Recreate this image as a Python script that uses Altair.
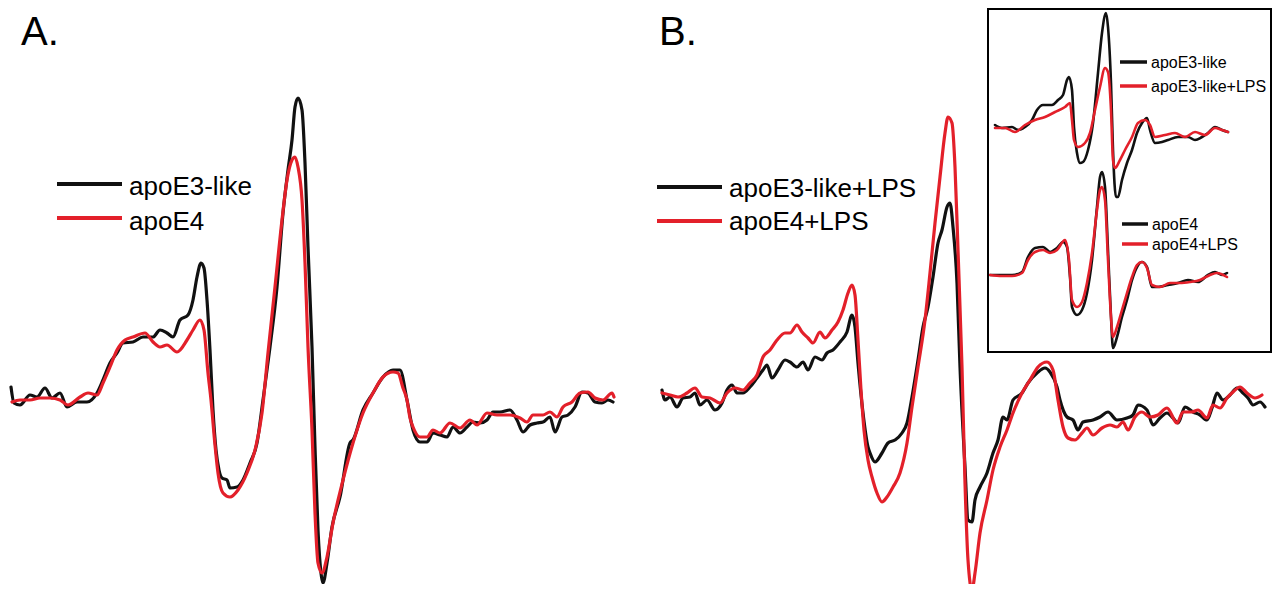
import altair as alt
import pandas as pd

BLACK = "#111111"
RED = "#e3202a"
FONT = "Liberation Sans"

# ---------------- data (field offset, signal amplitude; arbitrary units) ----------------
A_E3 = [(1,13),(4,-3),(10,-5),(20,5),(27,3),(35,12),(42,2),(50,7),(57,-7),(67,-2),(77,-2),(87,7),(93,20),
        (100,37),(107,47),(113,57),(123,58),(133,63),(143,63),(150,70),(157,67),(163,63),(170,80),(178,85),
        (183,100),(187,123),(191,137),(194,132),(197,100),(200,50),(203,-10),(206,-50),(209,-70),(212,-78),
        (217,-80),(220,-88),(227,-87),(233,-80),(240,-63),(247,-43),(253,0),(260,53),(267,113),(273,187),
        (278,230),(282,260),(285,293),(288,302),(292,290),(295,237),(298,153),(302,53),(305,-47),(308,-130),
        (311,-173),(313,-183),(317,-163),(322,-127),(330,-97),(340,-43),(343,-40),(353,-10),(363,7),(373,23),
        (383,30),(390,30),(397,0),(403,-30),(410,-42),(417,-42),(423,-33),(430,-35),(437,-37),(443,-27),
        (450,-33),(457,-27),(463,-22),(470,-23),(477,-20),(483,-12),(490,-12),(500,-10),(507,-20),(513,-32),
        (520,-25),(527,-23),(533,-22),(540,-17),(545,-32),(552,-17),(558,-15),(565,-7),(572,8),(578,7),
        (585,-2),(592,-3),(598,0),(603,-2)]

A_E4 = [(2,-2),(10,0),(20,0),(30,2),(40,2),(50,0),(58,-5),(70,3),(78,7),(87,5),(93,17),(100,33),(107,50),
        (115,60),(123,63),(135,67),(143,58),(150,53),(157,55),(167,48),(177,60),(183,70),(190,80),(194,70),
        (198,27),(201,0),(205,-45),(208,-73),(213,-93),(220,-97),(228,-90),(237,-73),(245,-50),(252,-13),
        (258,47),(265,113),(272,180),(277,220),(282,240),(285,243),(288,233),(292,200),(295,137),(298,53),
        (302,-30),(305,-113),(308,-163),(312,-173),(317,-157),(323,-123),(333,-80),(343,-43),(353,-13),
        (363,7),(373,23),(383,28),(388,27),(393,12),(397,0),(400,-18),(403,-27),(410,-37),(417,-37),
        (423,-30),(430,-33),(440,-23),(450,-28),(460,-20),(467,-25),(477,-13),(487,-15),(500,-15),
        (510,-18),(517,-22),(523,-15),(533,-15),(540,-12),(547,-17),(553,-7),(562,-2),(570,7),(578,8),
        (585,2),(593,0),(602,7),(604,3)]

B_E3_LPS = [(2,10),(5,0),(10,3),(17,-7),(23,2),(30,3),(35,7),(40,-5),(47,0),(55,-10),(62,-3),(67,10),
            (72,15),(77,7),(83,7),(90,13),(97,22),(103,30),(107,35),(112,22),(118,30),(125,40),(130,38),
            (137,33),(143,38),(148,30),(155,43),(162,40),(167,47),(173,50),(180,58),(187,68),(192,85),
            (195,73),(198,37),(203,-13),(208,-47),(210,-53),(215,-62),(222,-53),(228,-43),(235,-40),
            (242,-33),(247,-23),(252,3),(258,40),(263,73),(268,93),(273,123),(278,157),(282,170),(287,193),
            (290,197),(293,173),(297,117),(300,33),(305,-67),(308,-120),(312,-122),(315,-100),(320,-87),
            (327,-73),(333,-53),(338,-40),(343,-17),(347,-20),(353,0),(362,7),(368,17),(377,27),(385,32),
            (390,28),(397,13),(400,0),(407,-17),(413,-20),(418,-30),(423,-22),(433,-20),(440,-17),(448,-12),
            (457,-20),(467,-18),(473,-15),(478,-5),(487,-10),(493,-25),(500,-18),(507,-13),(513,-18),
            (518,-23),(525,-7),(533,-12),(540,-15),(547,-20),(552,-8),(557,7),(563,0),(570,5),(577,12),
            (583,7),(588,2),(593,-5),(600,-2),(605,-7)]

B_E4_LPS = [(2,7),(10,5),(18,3),(27,7),(35,12),(42,3),(50,2),(60,-3),(67,7),(75,12),(83,10),(90,17),
            (97,25),(103,43),(110,50),(117,60),(125,67),(130,67),(137,75),(142,68),(148,62),(153,57),
            (160,68),(165,62),(172,70),(178,78),(183,90),(188,107),(192,115),(195,105),(198,60),(201,10),
            (204,-30),(208,-60),(212,-77),(217,-93),(222,-102),(227,-97),(233,-87),(240,-73),(247,-43),
            (252,-7),(258,33),(265,80),(270,127),(275,177),(280,223),(285,267),(288,283),(292,277),
            (295,233),(298,150),(302,33),(305,-83),(308,-160),(312,-190),(315,-173),(320,-133),(327,-100),
            (333,-70),(340,-47),(347,-30),(353,-13),(362,7),(370,20),(378,33),(387,38),(393,30),(398,0),
            (403,-27),(408,-38),(415,-40),(422,-33),(427,-28),(433,-35),(442,-28),(450,-25),(457,-27),
            (463,-22),(468,-30),(475,-17),(482,-12),(490,-17),(498,-15),(507,-8),(517,-23),(523,-12),
            (532,-12),(538,-10),(547,-18),(553,-5),(560,-8),(567,2),(573,8),(580,13),(587,7),(595,2),(602,5)]

INSET_E3 = [(5,3),(12,0),(22,1),(28,-2),(35,1),(42,8),(47,18),(53,23),(62,23),(68,28),(73,33),(77,48),
            (79,51),(82,38),(84,1),(87,-25),(90,-35),(93,-34),(98,-22),(103,5),(108,55),(112,95),(116,115),
            (118,101),(121,45),(123,-22),(126,-69),(128,-69),(132,-52),(137,-35),(142,-22),(147,-5),(152,5),
            (157,10),(160,-2),(165,-15),(172,-14),(178,-12),(188,-9),(198,-9),(205,-12),(212,-9),(218,-5),
            (225,1),(232,-2),(238,-4)]

INSET_E3_LPS = [(5,0),(15,0),(25,-4),(35,3),(45,8),(55,11),(65,16),(75,21),(80,25),(82,8),(84,-12),
                (88,-19),(95,-15),(100,-5),(105,18),(110,41),(115,60),(118,56),(121,18),(123,-32),(125,-40),
                (130,-32),(135,-22),(142,-9),(148,5),(155,8),(160,3),(165,-9),(175,-7),(185,-5),(195,-9),
                (205,-4),(215,-7),(225,0),(232,-2),(238,-4)]

INSET_E4 = [(0,0),(12,0),(22,0),(32,3),(38,18),(45,27),(53,28),(60,23),(67,27),(73,33),(77,28),(80,-2),
            (82,-32),(87,-40),(92,-35),(97,-18),(102,15),(107,68),(110,98),(112,103),(115,88),(118,25),
            (121,-42),(123,-73),(127,-62),(132,-42),(137,-25),(142,-5),(147,8),(152,13),(157,8),(162,-12),
            (168,-12),(178,-10),(188,-8),(198,-5),(208,-7),(218,0),(225,3),(232,0),(237,2)]

INSET_E4_LPS = [(0,0),(12,-1),(22,-1),(32,2),(38,15),(45,23),(53,25),(60,22),(67,25),(75,35),(79,15),
                (82,-25),(87,-32),(92,-27),(97,-8),(102,22),(107,65),(110,85),(112,88),(115,75),(118,15),
                (121,-42),(123,-62),(127,-52),(132,-35),(137,-18),(142,-2),(147,10),(152,13),(157,7),
                (162,-10),(170,-12),(180,-8),(190,-8),(200,-7),(210,-5),(220,0),(227,2),(237,-2)]

PANEL_LABELS = ["A.", "B."]
LEGEND_A = ["apoE3-like", "apoE4"]
LEGEND_B = ["apoE3-like+LPS", "apoE4+LPS"]
LEGEND_INSET_TOP = ["apoE3-like", "apoE3-like+LPS"]
LEGEND_INSET_BOTTOM = ["apoE4", "apoE4+LPS"]

# ---------------- helpers ----------------
MAIN_X = [0, 605]
MAIN_Y = [-200, 400]
INSET_X = [0, 240]
INSET_Y = [-100, 150]


def trace(pairs, color, xrange, yrange, xdom, ydom, width):
    df = pd.DataFrame(pairs, columns=["field", "signal"])
    return alt.Chart(df).mark_line(color=color, strokeWidth=width, strokeJoin="round",
                                   strokeCap="round", interpolate="monotone").encode(
        x=alt.X("field:Q", axis=None,
                scale=alt.Scale(domain=xdom, range=xrange, nice=False, zero=False)),
        y=alt.Y("signal:Q", axis=None,
                scale=alt.Scale(domain=ydom, range=yrange, nice=False, zero=False)),
    )


def text(label, x, y, size):
    return alt.Chart(pd.DataFrame({"t": [label]})).mark_text(
        align="left", baseline="alphabetic", fontSize=size, font=FONT, color="black"
    ).encode(x=alt.value(x), y=alt.value(y), text="t:N")


def legend_line(x1, x2, y, color, width):
    return alt.Chart(pd.DataFrame({"k": [0]})).mark_rule(color=color, strokeWidth=width).encode(
        x=alt.value(x1), x2=alt.value(x2), y=alt.value(y))


layers = [
    # panel A
    trace(A_E3, BLACK, [2, 607], [592, -8], MAIN_X, MAIN_Y, 3.2),
    trace(A_E4, RED, [2, 607], [592, -8], MAIN_X, MAIN_Y, 3.2),
    # panel B
    trace(B_E3_LPS, BLACK, [652, 1257], [592, -8], MAIN_X, MAIN_Y, 3.2),
    trace(B_E4_LPS, RED, [652, 1257], [592, -8], MAIN_X, MAIN_Y, 3.2),
    # inset
    trace(INSET_E3, BLACK, [982, 1222], [220, -30], INSET_X, INSET_Y, 2.6),
    trace(INSET_E3_LPS, RED, [982, 1222], [220, -30], INSET_X, INSET_Y, 2.6),
    trace(INSET_E4, BLACK, [982, 1222], [367, 117], INSET_X, INSET_Y, 2.6),
    trace(INSET_E4_LPS, RED, [982, 1222], [367, 117], INSET_X, INSET_Y, 2.6),
    # inset frame
    alt.Chart(pd.DataFrame({"k": [0]})).mark_rect(fillOpacity=0, stroke="black", strokeWidth=2).encode(
        x=alt.value(980), x2=alt.value(1263), y=alt.value(1), y2=alt.value(344)),
    # panel labels
    text(PANEL_LABELS[0], 13, 37, 40),
    text(PANEL_LABELS[1], 651, 37, 40),
    # legend A
    legend_line(49, 114, 176, BLACK, 4),
    legend_line(49, 114, 210, RED, 4),
    text(LEGEND_A[0], 121, 187, 26),
    text(LEGEND_A[1], 121, 222, 26),
    # legend B
    legend_line(649, 714, 179, BLACK, 4),
    legend_line(649, 714, 213, RED, 4),
    text(LEGEND_B[0], 721, 189, 26),
    text(LEGEND_B[1], 721, 222, 26),
    # inset legends
    legend_line(1112, 1139, 54, BLACK, 3.5),
    legend_line(1112, 1139, 78, RED, 3.5),
    text(LEGEND_INSET_TOP[0], 1143, 60, 16),
    text(LEGEND_INSET_TOP[1], 1143, 84, 16),
    legend_line(1114, 1140, 216, BLACK, 3.5),
    legend_line(1114, 1140, 236, RED, 3.5),
    text(LEGEND_INSET_BOTTOM[0], 1144, 222, 16),
    text(LEGEND_INSET_BOTTOM[1], 1144, 242, 16),
]

chart = alt.layer(*layers).resolve_scale(x="independent", y="independent").properties(
    width=1264, height=576, padding=0,
    autosize=alt.AutoSizeParams(type="none"), background="white",
).configure_view(stroke=None)

chart.save("out.html", embed_options={"renderer": "svg", "actions": False})
